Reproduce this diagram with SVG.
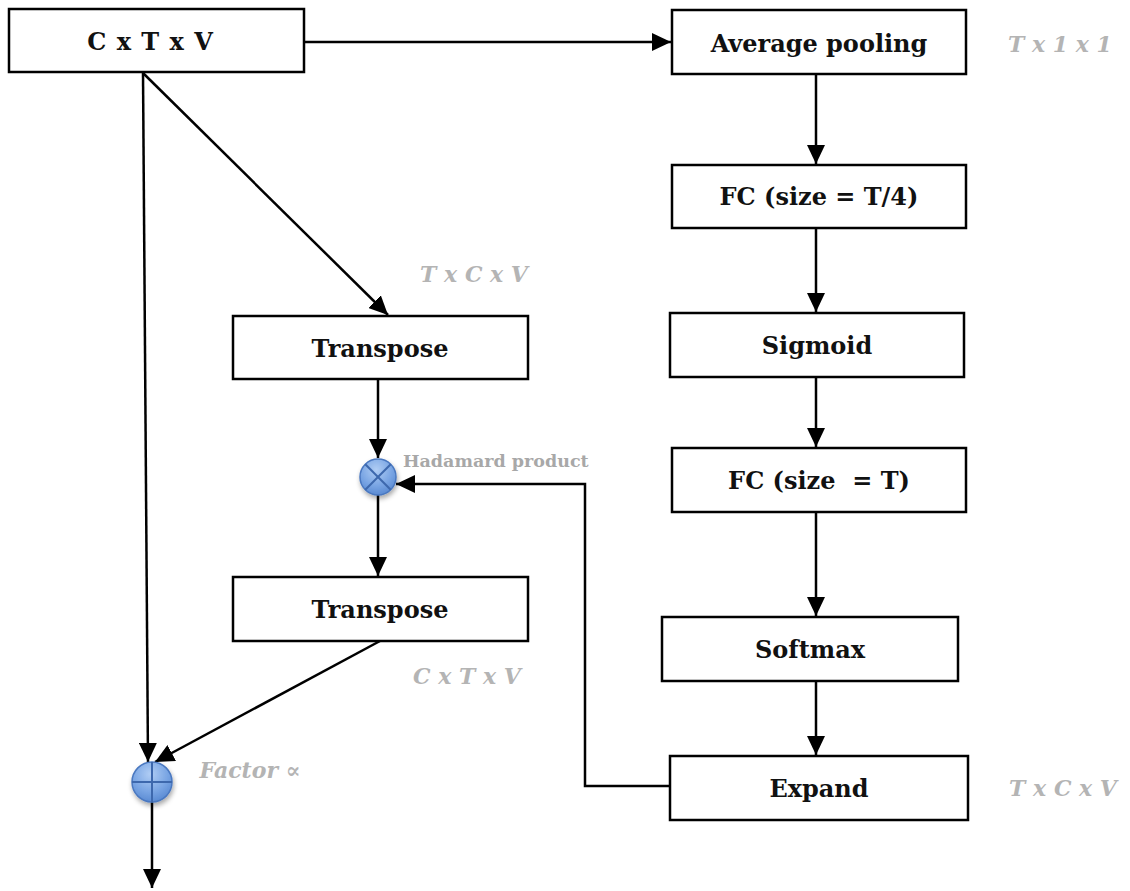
<svg xmlns="http://www.w3.org/2000/svg" width="1130" height="891" viewBox="0 0 1130 891">
<style>
.box{fill:#fff;stroke:#000;stroke-width:2.5}
.lbl{font-family:"DejaVu Serif","Liberation Serif",serif;font-weight:bold;font-size:24px;fill:#111;text-anchor:middle}
.dim{font-family:"DejaVu Serif","Liberation Serif",serif;font-weight:bold;font-style:italic;font-size:22px;fill:#b4b4b4;text-anchor:middle}
.note{font-family:"DejaVu Serif","Liberation Serif",serif;font-weight:bold;font-size:17.5px;fill:#a8a8a8}
.con{fill:none;stroke:#000;stroke-width:2.5}
.op{fill:url(#blue);stroke:#4a78c0;stroke-width:1.5}
.opl{stroke:#3d68ad;stroke-width:2}
</style>
<defs>
<marker id="ah" markerUnits="userSpaceOnUse" markerWidth="20" markerHeight="18" refX="19" refY="9" orient="auto">
<path d="M0,0 L19,9 L0,18 Z" fill="#000"/>
</marker>
<radialGradient id="blue" cx="0.45" cy="0.3" r="0.75">
<stop offset="0" stop-color="#b0cdf4"/>
<stop offset="0.6" stop-color="#78a4e3"/>
<stop offset="1" stop-color="#5586d0"/>
</radialGradient>
<filter id="sh" x="-50%" y="-50%" width="200%" height="200%">
<feGaussianBlur in="SourceAlpha" stdDeviation="2.5"/>
<feOffset dx="1" dy="3" result="b"/>
<feComponentTransfer><feFuncA type="linear" slope="0.35"/></feComponentTransfer>
<feMerge><feMergeNode/><feMergeNode in="SourceGraphic"/></feMerge>
</filter>
</defs>

<g id="connectors">
<line class="con" x1="303" y1="42" x2="671" y2="42" marker-end="url(#ah)"/>
<line class="con" x1="143" y1="73" x2="148" y2="762" marker-end="url(#ah)"/>
<line class="con" x1="143" y1="73" x2="388" y2="315" marker-end="url(#ah)"/>
<line class="con" x1="378" y1="379" x2="378" y2="458" marker-end="url(#ah)"/>
<line class="con" x1="378" y1="495" x2="378" y2="576" marker-end="url(#ah)"/>
<line class="con" x1="380" y1="641" x2="155" y2="762" marker-end="url(#ah)"/>
<line class="con" x1="152" y1="801" x2="152" y2="888" marker-end="url(#ah)"/>
<line class="con" x1="816" y1="74" x2="816" y2="164" marker-end="url(#ah)"/>
<line class="con" x1="816" y1="228" x2="816" y2="312" marker-end="url(#ah)"/>
<line class="con" x1="816" y1="377" x2="816" y2="447" marker-end="url(#ah)"/>
<line class="con" x1="816" y1="512" x2="816" y2="616" marker-end="url(#ah)"/>
<line class="con" x1="816" y1="681" x2="816" y2="755" marker-end="url(#ah)"/>
<polyline class="con" points="670,786 585,786 585,484 396,484" marker-end="url(#ah)"/>
</g>

<g id="n-input">
<rect class="box" x="9" y="9" width="295" height="63"/>
<text class="lbl" x="150" y="50" word-spacing="2">C x T x V</text>
</g>
<g id="n-avgpool">
<rect class="box" x="672" y="10" width="294" height="64"/>
<text class="lbl" x="819" y="52">Average pooling</text>
</g>
<g id="n-fc1">
<rect class="box" x="672" y="165" width="294" height="63"/>
<text class="lbl" x="819" y="205">FC (size = T/4)</text>
</g>
<g id="n-sigmoid">
<rect class="box" x="670" y="313" width="294" height="64"/>
<text class="lbl" x="817" y="354">Sigmoid</text>
</g>
<g id="n-fc2">
<rect class="box" x="672" y="448" width="294" height="64"/>
<text class="lbl" x="819" y="489" xml:space="preserve">FC (size  = T)</text>
</g>
<g id="n-softmax">
<rect class="box" x="662" y="617" width="296" height="64"/>
<text class="lbl" x="810" y="658">Softmax</text>
</g>
<g id="n-expand">
<rect class="box" x="670" y="756" width="298" height="64"/>
<text class="lbl" x="819" y="797">Expand</text>
</g>
<g id="n-transpose1">
<rect class="box" x="233" y="316" width="295" height="63"/>
<text class="lbl" x="380" y="357">Transpose</text>
</g>
<g id="n-transpose2">
<rect class="box" x="233" y="577" width="295" height="64"/>
<text class="lbl" x="380" y="618">Transpose</text>
</g>
<g id="n-hadamard">
<g filter="url(#sh)">
<circle class="op" cx="378" cy="477" r="18"/>
</g>
<line class="opl" x1="365.3" y1="464.3" x2="390.7" y2="489.7"/>
<line class="opl" x1="390.7" y1="464.3" x2="365.3" y2="489.7"/>
<text class="note" x="403" y="467">Hadamard product</text>
</g>
<g id="n-sum">
<g filter="url(#sh)">
<circle class="op" cx="152" cy="782" r="20"/>
</g>
<line class="opl" x1="132" y1="782" x2="172" y2="782"/>
<line class="opl" x1="152" y1="762" x2="152" y2="802"/>
<text class="dim" x="250" y="778">Factor ∝</text>
</g>

<g id="dims">
<text class="dim" x="1060" y="52">T x 1 x 1</text>
<text class="dim" x="474" y="282">T x C x V</text>
<text class="dim" x="467" y="684">C x T x V</text>
<text class="dim" x="1063" y="796">T x C x V</text>
</g>
</svg>
